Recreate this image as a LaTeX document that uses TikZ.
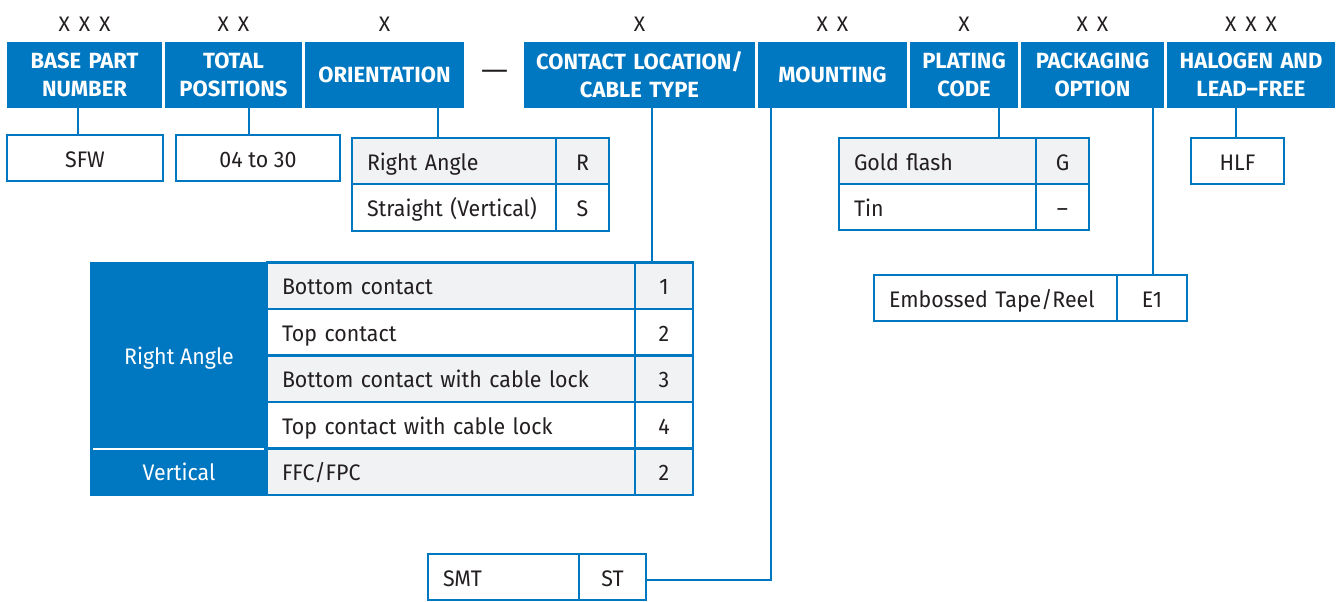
\documentclass[tikz,border=0pt]{standalone}
\usepackage{fontspec}
\setmainfont{Fira Sans}
\newfontfamily\condfont{Fira Sans}[FakeStretch=0.95]
\newfontfamily\xfont{Fira Sans}[WordSpace=1.6]
\definecolor{tblue}{HTML}{0077C1}
\definecolor{tgray}{HTML}{F1F2F4}
\definecolor{tink}{HTML}{231F20}
\begin{document}
\begin{tikzpicture}[x=1pt,y=-1pt,
  hdr/.style={fill=tblue, text=white, font=\fontsize{22}{28}\selectfont\bfseries,
    align=center, inner sep=0pt, minimum height=66pt},
  xlab/.style={text=tink, font=\xfont\fontsize{21}{24}\selectfont, inner sep=0pt},
  cell/.style={draw=tblue, line width=2.5pt, text=tink, font=\condfont\fontsize{22.5}{26}\selectfont,
    inner sep=0pt, align=center, text height=20pt, text depth=2pt},
  lcell/.style={cell, align=left, inner xsep=15pt},
  gcell/.style={fill=tgray},
  bcell/.style={fill=tblue, text=white, font=\condfont\fontsize{22.5}{26}\selectfont, inner sep=0pt,
    align=center, text height=20pt, text depth=2pt},
  conn/.style={draw=tblue, line width=2.5pt}
]
\useasboundingbox[fill=white] (0,0) rectangle (1336,602);

% headers
\node[hdr, minimum width=155pt, text width=151pt] (hbase) at (84.5,75) {BASE PART\\NUMBER};
\node[hdr, minimum width=137pt, text width=133pt] (htot) at (233.5,75) {TOTAL\\POSITIONS};
\node[hdr, minimum width=159pt, text width=155pt] (hori) at (384.5,75) {ORIENTATION};
\node[text=tink, font=\fontsize{22}{26}\selectfont, inner sep=0pt] (dash) at (494.5,75) {\scalebox{1.55}[1.2]{—}};
\node[hdr, minimum width=231pt, text width=227pt] (hcon) at (639.5,75) {CONTACT LOCATION/\\CABLE TYPE};
\node[hdr, minimum width=149pt, text width=145pt] (hmnt) at (832.5,75) {MOUNTING};
\node[hdr, minimum width=108pt, text width=104pt] (hpla) at (964,75) {PLATING\\CODE};
\node[hdr, minimum width=143pt, text width=139pt] (hpak) at (1092.5,75) {PACKAGING\\OPTION};
\node[hdr, minimum width=168pt, text width=164pt] (hhal) at (1251,75) {HALOGEN AND\\LEAD–FREE};

% X labels
\node[xlab] (x1) at (84.5,24) {X X X};
\node[xlab] (x2) at (233.5,24) {X X};
\node[xlab] (x3) at (384.5,24) {X};
\node[xlab] (x4) at (639.5,24) {X};
\node[xlab] (x5) at (832.5,24) {X X};
\node[xlab] (x6) at (964,24) {X};
\node[xlab] (x7) at (1092.5,24) {X X};
\node[xlab] (x8) at (1251,24) {X X X};

% simple boxes
\node[cell, minimum width=156pt, minimum height=46pt] (sfw) at (85,158) {SFW};
\node[cell, minimum width=164pt, minimum height=46pt] (pos) at (258,158) {04 to 30};
\node[cell, minimum width=93pt, minimum height=46pt] (hlf) at (1237.5,161) {HLF};

% orientation table
\node[lcell, gcell, text width=174pt, minimum height=46pt] (ora) at (454,161) {Right Angle};
\node[cell, gcell, minimum width=53pt, minimum height=46pt] (orav) at (582.5,161) {R};
\node[lcell, text width=174pt, minimum height=47pt] (ors) at (454,207.5) {Straight (Vertical)};
\node[cell, minimum width=53pt, minimum height=47pt] (orsv) at (582.5,207.5) {S};

% plating table
\node[lcell, gcell, text width=167pt, minimum height=46pt] (plg) at (937.5,161) {Gold flash};
\node[cell, gcell, minimum width=53pt, minimum height=46pt] (plgv) at (1062.5,161) {G};
\node[lcell, text width=167pt, minimum height=46pt] (plt) at (937.5,207) {Tin};
\node[cell, minimum width=53pt, minimum height=46pt] (pltv) at (1062.5,207) {–};

% packaging
\node[lcell, text width=213pt, minimum height=46pt] (pke) at (995.5,298) {Embossed Tape/Reel};
\node[cell, minimum width=70pt, minimum height=46pt] (pkev) at (1152,298) {E1};

% mounting
\node[lcell, text width=121pt, minimum height=46pt] (smt) at (503.5,577) {SMT};
\node[cell, minimum width=67pt, minimum height=46pt] (smtv) at (612.5,577) {ST};

% contact table
\node[bcell, minimum width=176pt, minimum height=186pt] (cra) at (179,355.5) {Right Angle};
\node[bcell, minimum width=176pt, minimum height=47pt] (cve) at (179,471.75) {Vertical};
\draw[white, line width=2pt] ([xshift=2pt]cra.south west) -- ([xshift=-3pt]cra.south east);
\node[lcell, gcell, text width=338pt, minimum height=46.5pt] (c1) at (451,285.75) {Bottom contact};
\node[cell, gcell, minimum width=58pt, minimum height=46.5pt] (c1v) at (664,285.75) {1};
\node[lcell, text width=338pt, minimum height=46.5pt] (c2) at (451,332.25) {Top contact};
\node[cell, minimum width=58pt, minimum height=46.5pt] (c2v) at (664,332.25) {2};
\node[lcell, gcell, text width=338pt, minimum height=46.5pt] (c3) at (451,378.75) {Bottom contact with cable lock};
\node[cell, gcell, minimum width=58pt, minimum height=46.5pt] (c3v) at (664,378.75) {3};
\node[lcell, text width=338pt, minimum height=46.5pt] (c4) at (451,425.25) {Top contact with cable lock};
\node[cell, minimum width=58pt, minimum height=46.5pt] (c4v) at (664,425.25) {4};
\node[lcell, gcell, text width=338pt, minimum height=46.5pt] (c5) at (451,471.75) {FFC/FPC};
\node[cell, gcell, minimum width=58pt, minimum height=46.5pt] (c5v) at (664,471.75) {2};
\draw[tblue, line width=1pt] (cra.north west) rectangle (cve.south east);

% connectors
\draw[conn] (hbase.south -| 78,0) -- (sfw.north -| 78,0);
\draw[conn] (htot.south -| 249,0) -- (pos.north -| 249,0);
\draw[conn] (hori.south -| 438,0) -- (ora.north -| 438,0);
\draw[conn] (hcon.south -| 652,0) -- (c1.north -| 652,0);
\draw[conn] (hmnt.south -| 771,0) |- ([yshift=-3pt]smtv.east);
\draw[conn] (hpla.south -| 999,0) -- (plg.north -| 999,0);
\draw[conn] (hpak.south -| 1153,0) -- (pke.north -| 1153,0);
\draw[conn] (hhal.south -| 1236,0) -- (hlf.north -| 1236,0);
\end{tikzpicture}
\end{document}
